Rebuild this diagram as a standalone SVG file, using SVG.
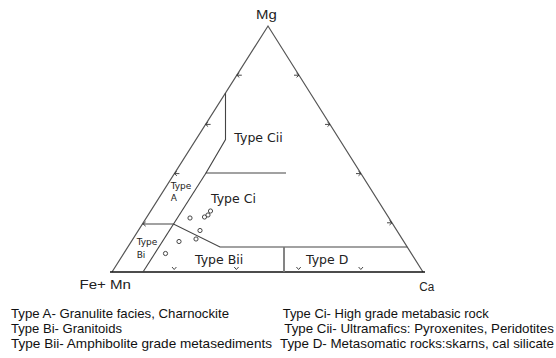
<svg xmlns="http://www.w3.org/2000/svg" width="556" height="358" viewBox="0 0 556 358">
<style>
.side{fill:none;stroke:#555;stroke-width:1.2}
.base{fill:none;stroke:#111;stroke-width:1.6}
.bd{fill:none;stroke:#444;stroke-width:1.1}
.tick{fill:none;stroke:#333;stroke-width:0.9}
.pt{fill:#fff;stroke:#333;stroke-width:0.9}
.lab{font-family:"DejaVu Sans",Verdana,sans-serif;font-size:12.5px;fill:#222}
.sm{font-family:"DejaVu Sans",Verdana,sans-serif;font-size:9px;fill:#222}
.ax{font-family:"Liberation Sans",Arial,sans-serif;font-size:12.5px;fill:#222}
.lg{font-family:"Liberation Sans",Arial,sans-serif;font-size:13px;fill:#111}
</style>
<rect width="556" height="358" fill="#fff"/>
<g id="triangle">
<path class="side" d="M112,272 L268,26 L423,272"/>
<path class="base" d="M110,272 H425"/>
</g>
<g id="connectors">
<path class="bd" d="M225.5,93 V139.5 L206,173 H286"/>
<path class="bd" d="M206,173 L143,272"/>
<path class="bd" d="M142.4,224 H173.5 L220,247 H407.2"/>
<path fill="none" stroke="#777" stroke-width="1.8" d="M284,247 V272"/>
</g>
<g id="ticks">
<path class="tick" d="M236.8,75.2 h5 M239.3,73 L236.8,75.2 L239.3,77.4"/>
<path class="tick" d="M205.6,124.4 h5 M208.1,122.2 L205.6,124.4 L208.1,126.6"/>
<path class="tick" d="M174.4,173.6 h5 M176.9,171.4 L174.4,173.6 L176.9,175.8"/>
<path class="tick" d="M145.7,221.8 L143.2,224 L145.7,226.2"/>
<path class="tick" d="M299,75.2 h-5 M296.5,73 L299,75.2 L296.5,77.4"/>
<path class="tick" d="M330,124.4 h-5 M327.5,122.2 L330,124.4 L327.5,126.6"/>
<path class="tick" d="M361,173.6 h-5 M358.5,171.4 L361,173.6 L358.5,175.8"/>
<path class="tick" d="M392,222.8 h-5 M389.5,220.6 L392,222.8 L389.5,225"/>
<path class="tick" d="M172,267 L174.2,269.5 L176.4,267"/>
<path class="tick" d="M234.2,267 L236.4,269.5 L238.6,267"/>
<path class="tick" d="M296.4,267 L298.6,269.5 L300.8,267"/>
<path class="tick" d="M358.6,267 L360.8,269.5 L363,267"/>
</g>
<g id="samples">
<circle class="pt" cx="190" cy="218" r="2.1"/>
<circle class="pt" cx="204.5" cy="217" r="2.1"/>
<circle class="pt" cx="208" cy="215" r="2.1"/>
<circle class="pt" cx="210.5" cy="211" r="2.1"/>
<circle class="pt" cx="200" cy="230.5" r="2.1"/>
<circle class="pt" cx="196" cy="239" r="2.1"/>
<circle class="pt" cx="179" cy="241.5" r="2.1"/>
<circle class="pt" cx="165.5" cy="253.5" r="2.1"/>
</g>
<g id="vertex-mg"><text class="ax" x="256" y="18.5" textLength="20.7" lengthAdjust="spacingAndGlyphs">Mg</text></g>
<g id="vertex-femn"><text class="ax" x="79.5" y="289" textLength="51.5" lengthAdjust="spacingAndGlyphs">Fe+ Mn</text></g>
<g id="vertex-ca"><text class="ax" x="419.3" y="290.5" textLength="15" lengthAdjust="spacingAndGlyphs">Ca</text></g>
<g id="type-cii"><text class="lab" x="234.3" y="141.7">Type Cii</text></g>
<g id="type-ci"><text class="lab" x="211" y="203.3">Type Ci</text></g>
<g id="type-a"><text class="sm" x="170.7" y="188.5">Type</text><text class="sm" x="170.7" y="201">A</text></g>
<g id="type-bi"><text class="sm" x="136.7" y="244.5">Type</text><text class="sm" x="136.7" y="257.5">Bi</text></g>
<g id="type-bii"><text class="lab" x="195" y="264.3">Type Bii</text></g>
<g id="type-d"><text class="lab" x="306" y="264.3" textLength="42.3" lengthAdjust="spacingAndGlyphs">Type D</text></g>
<g id="legend">
<text class="lg" x="11" y="318.3" textLength="218" lengthAdjust="spacingAndGlyphs">Type A- Granulite facies, Charnockite</text>
<text class="lg" x="11" y="333.3" textLength="111" lengthAdjust="spacingAndGlyphs">Type Bi- Granitoids</text>
<text class="lg" x="11" y="348.3" textLength="261" lengthAdjust="spacingAndGlyphs">Type Bii- Amphibolite grade metasediments</text>
<text class="lg" x="282.7" y="318.3" textLength="206" lengthAdjust="spacingAndGlyphs">Type Ci- High grade metabasic rock</text>
<text class="lg" x="284.3" y="333.3" textLength="269.5" lengthAdjust="spacingAndGlyphs">Type Cii- Ultramafics: Pyroxenites, Peridotites</text>
<text class="lg" x="280" y="348.3" textLength="274" lengthAdjust="spacingAndGlyphs">Type D- Metasomatic rocks:skarns, cal silicate</text>
</g>
</svg>
